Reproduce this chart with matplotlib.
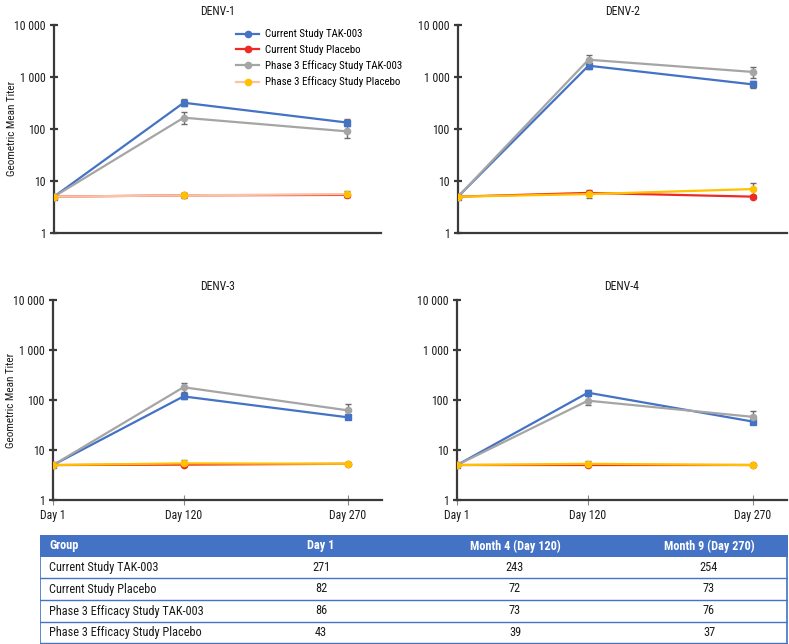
import matplotlib
matplotlib.use('Agg')
import matplotlib.pyplot as plt
from matplotlib import font_manager
from matplotlib.ticker import FixedLocator, FuncFormatter, NullLocator
from matplotlib.lines import Line2D

# pick a condensed sans if one is installed
narrow = None
for key in ['LiberationSansNarrow-Regular', 'RobotoCondensed-Regular', 'DejaVuSansCondensed.ttf',
            'OpenSans_Condensed-Regular', 'Condensed', 'Narrow']:
    for f in font_manager.fontManager.ttflist:
        fn = f.fname.split('/')[-1]
        if key in fn and f.style == 'normal' and 'Bold' not in fn and 'Light' not in fn:
            narrow = f
            break
    if narrow is not None:
        break
if narrow is not None:
    plt.rcParams['font.family'] = [narrow.name, 'DejaVu Sans']
    plt.rcParams['font.stretch'] = narrow.stretch
else:
    plt.rcParams['font.family'] = ['Liberation Sans', 'DejaVu Sans']

days = [1, 120, 270]
day_labels = ['Day 1', 'Day 120', 'Day 270']
panels = ['DENV-1', 'DENV-2', 'DENV-3', 'DENV-4']
groups = ['Current Study TAK-003', 'Current Study Placebo',
          'Phase 3 Efficacy Study TAK-003', 'Phase 3 Efficacy Study Placebo']

# geometric mean titers, [panel][group] -> values at days
gmt = {
    'DENV-1': [[5, 320, 133], [5, 5.3, 5.4], [5, 165, 90], [5, 5.3, 5.6]],
    'DENV-2': [[5, 1650, 720], [5, 5.9, 5.0], [5, 2150, 1250], [5, 5.6, 7.0]],
    'DENV-3': [[5, 118, 45], [5, 5.1, 5.3], [5, 180, 62], [5, 5.4, 5.3]],
    'DENV-4': [[5, 140, 37], [5, 5.0, 5.0], [5, 97, 46], [5, 5.3, 5.0]],
}
ci_low = {
    'DENV-1': [[5, 277, 114], [5, 4.8, 5.0], [5, 125, 67], [5, 4.9, 5.0]],
    'DENV-2': [[5, 1450, 620], [5, 5.3, 4.8], [5, 1750, 960], [5, 4.8, 5.4]],
    'DENV-3': [[5, 107, 41], [5, 4.8, 5.0], [5, 145, 48], [5, 4.7, 5.0]],
    'DENV-4': [[5, 125, 34], [5, 4.8, 4.8], [5, 78, 37], [5, 4.8, 4.7]],
}
ci_high = {
    'DENV-1': [[5, 380, 155], [5, 5.8, 5.9], [5, 215, 118], [5, 5.8, 6.4]],
    'DENV-2': [[5, 1900, 830], [5, 6.6, 5.3], [5, 2650, 1580], [5, 6.4, 9.2]],
    'DENV-3': [[5, 130, 50], [5, 5.4, 5.6], [5, 222, 82], [5, 6.3, 5.6]],
    'DENV-4': [[5, 160, 41], [5, 5.3, 5.2], [5, 118, 59], [5, 5.9, 5.3]],
}

table_header = ['Group', 'Day 1', 'Month 4 (Day 120)', 'Month 9 (Day 270)']
table_day1 = [271, 82, 86, 43]
table_m4 = [243, 72, 73, 39]
table_m9 = [254, 73, 76, 37]

colors = ['#4472C4', '#EE2A24', '#A5A5A5', '#FFC000']
markers = ['s', 'o', 'o', 'o']
draw_order = [0, 2, 1, 3]
axis_color = '#3a3a3a'
text_color = '#1a1a1a'

fig = plt.figure(figsize=(7.89, 6.44), dpi=100)
W, H = 789.0, 644.0


def px_rect(x0, y0, x1, y1):
    return [x0 / W, 1 - y1 / H, (x1 - x0) / W, (y1 - y0) / H]


rects = {
    'DENV-1': px_rect(54, 25, 381, 233),
    'DENV-2': px_rect(458, 25, 787, 233),
    'DENV-3': px_rect(53, 300, 382, 500),
    'DENV-4': px_rect(457, 300, 787, 500),
}


def fmt_thousands(x, pos):
    return '{:,}'.format(int(round(x))).replace(',', ' ')


for k, name in enumerate(panels):
    ax = fig.add_axes(rects[name])
    for i in draw_order:
        y = gmt[name][i]
        lo = [v - l for v, l in zip(y, ci_low[name][i])]
        hi = [h - v for v, h in zip(y, ci_high[name][i])]
        line_col = colors[i]
        if name == 'DENV-1' and i == 3:
            line_col = '#F9C3A5'
        ax.errorbar(days, y, yerr=[lo, hi], color=line_col, lw=1.6,
                    marker=markers[i], ms=4.5, mfc=colors[i], mec=colors[i],
                    ecolor='#6b6b6b', elinewidth=1, capsize=2, capthick=1, zorder=3)
    ax.set_yscale('log')
    ax.set_ylim(1, 10000)
    ax.set_xlim(1, 301)
    ax.yaxis.set_major_locator(FixedLocator([1, 10, 100, 1000, 10000]))
    ax.yaxis.set_minor_locator(NullLocator())
    ax.yaxis.set_major_formatter(FuncFormatter(fmt_thousands))
    for s in ['top', 'right']:
        ax.spines[s].set_visible(False)
    for s in ['left', 'bottom']:
        ax.spines[s].set_color(axis_color)
        ax.spines[s].set_linewidth(1.6)
    ax.tick_params(axis='y', direction='inout', length=6, width=1.6, color=axis_color,
                   labelsize=8.5, labelcolor=text_color, pad=3)
    if k >= 2:
        ax.set_xticks(days)
        ax.set_xticklabels(day_labels)
        ax.tick_params(axis='x', direction='inout', length=7, width=0.8, color='#888888',
                       labelsize=8.5, labelcolor=text_color, pad=3)
    else:
        ax.set_xticks([])
    if k % 2 == 0:
        ax.set_ylabel('Geometric Mean Titer', fontsize=8, color=text_color)
        ax.yaxis.set_label_coords(-0.112, 0.5)
    ax.set_title(name, fontsize=8.5, color=text_color, pad=7)
    ax.patch.set_alpha(0)

    if name == 'DENV-1':
        handles = []
        for i in range(4):
            lc = '#F9C3A5' if i == 3 else colors[i]
            handles.append(Line2D([0], [0], color=lc, lw=1.6, marker='o', ms=4.5,
                                  mfc=colors[i], mec=colors[i]))
        ax.legend(handles, groups, loc='upper left', bbox_to_anchor=(0.538, 1.01),
                  frameon=False, fontsize=7.8, handlelength=2.1, handletextpad=0.5,
                  labelspacing=0.5, borderaxespad=0.2)

# table
tax = fig.add_axes([40 / W, 0, 748 / W, 109 / H])
tax.set_xlim(40, 788)
tax.set_ylim(644, 535)
tax.axis('off')
blue = '#4472C4'
row_edges = [535, 557, 578, 600, 622, 643]
tax.add_patch(plt.Rectangle((40, 535), 748, 22, color=blue, lw=0))
col_x = [49, 321, 515, 709]
header_y = (row_edges[0] + row_edges[1]) / 2
for j, h in enumerate(table_header):
    tax.text(col_x[j], header_y, h, color='white', fontweight='bold', fontsize=8.8,
             ha='left' if j == 0 else 'center', va='center')
for r in range(4):
    yc = (row_edges[r + 1] + row_edges[r + 2]) / 2
    tax.text(col_x[0], yc, groups[r], color=text_color, fontsize=8.8, ha='left', va='center')
    tax.text(col_x[1], yc, str(table_day1[r]), color=text_color, fontsize=8.8, ha='center', va='center')
    tax.text(col_x[2], yc, str(table_m4[r]), color=text_color, fontsize=8.8, ha='center', va='center')
    tax.text(col_x[3], yc, str(table_m9[r]), color=text_color, fontsize=8.8, ha='center', va='center')
    tax.plot([40, 788], [row_edges[r + 2], row_edges[r + 2]], color=blue, lw=1)
tax.plot([40.5, 40.5], [535, 643], color=blue, lw=1.2)
tax.plot([787.5, 787.5], [535, 643], color=blue, lw=1.2)

fig.savefig('out.png', dpi=100)
